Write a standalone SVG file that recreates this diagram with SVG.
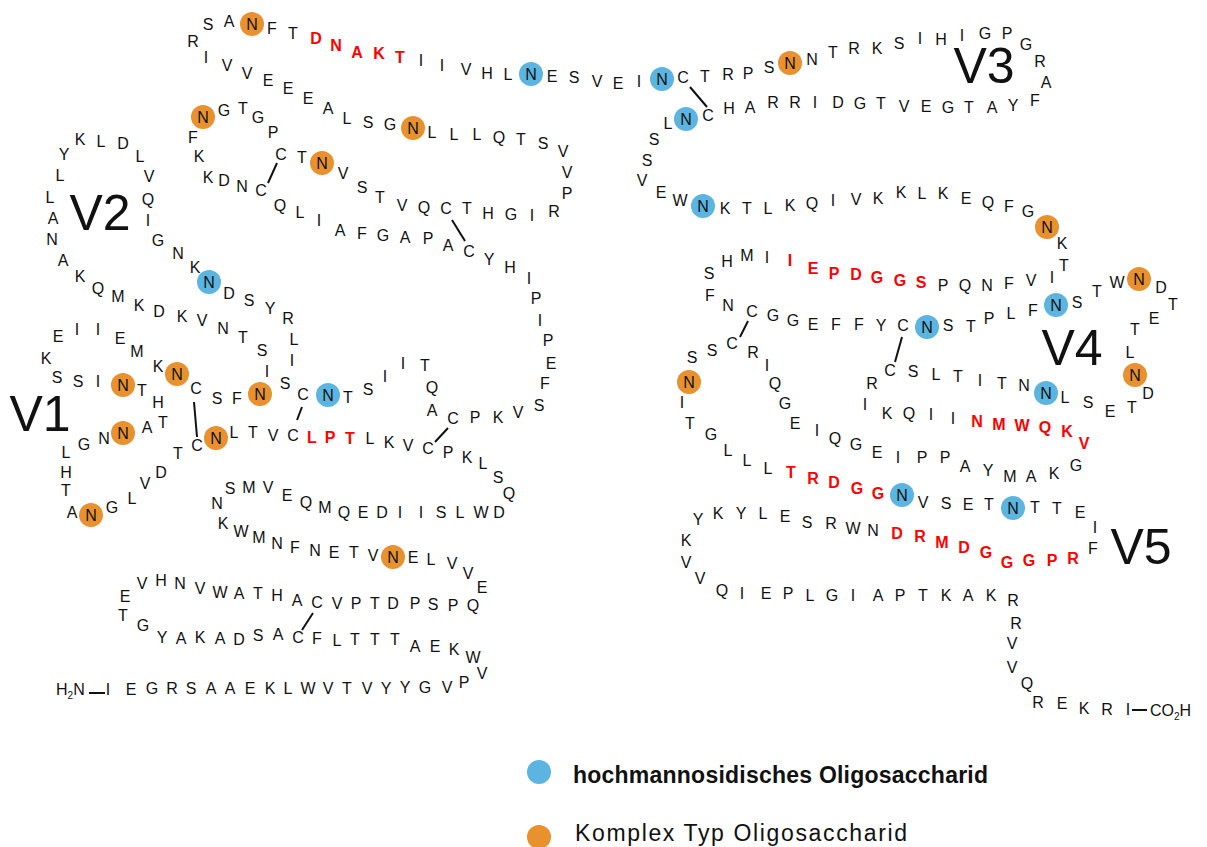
<svg xmlns="http://www.w3.org/2000/svg" width="1207" height="847" viewBox="0 0 1207 847">
<style>
.seq text{font-family:"Liberation Sans",Arial,sans-serif;font-size:16px;text-anchor:middle;dominant-baseline:central;fill:#111}
.seq text.r{fill:#f00;font-weight:bold}
.lbl{font-family:"Liberation Sans",Arial,sans-serif;font-size:50px;text-anchor:middle;dominant-baseline:central;fill:#111}
.hb{fill:#5bb5e0}
.ho{fill:#e8912e}
.bond{stroke:#111;stroke-width:2;fill:none}
.term{font-family:"Liberation Sans",Arial,sans-serif;font-size:16px;fill:#111}
.leg{font-family:"Liberation Sans",Arial,sans-serif;font-size:23px;fill:#111}
</style>
<rect width="1207" height="847" fill="#fff"/>
<g id="glycan-sites">
<g class="ho">
<circle cx="252" cy="24" r="12"/><circle cx="790" cy="63" r="12"/><circle cx="413" cy="128" r="12"/><circle cx="203" cy="117" r="12"/>
<circle cx="322" cy="163" r="12"/><circle cx="1047" cy="227" r="12"/><circle cx="1139" cy="279" r="12"/><circle cx="1135" cy="375" r="12"/>
<circle cx="689" cy="382" r="12"/><circle cx="260" cy="394" r="12"/><circle cx="177" cy="374" r="12"/><circle cx="123" cy="385" r="12"/>
<circle cx="123" cy="433" r="12"/><circle cx="91" cy="515" r="12"/><circle cx="216" cy="438" r="12"/><circle cx="393" cy="557" r="12"/>
</g>
<g class="hb">
<circle cx="531" cy="74" r="12"/><circle cx="662" cy="79" r="12"/><circle cx="686" cy="119" r="12"/><circle cx="703" cy="206" r="12"/>
<circle cx="927" cy="327" r="12"/><circle cx="1056" cy="305" r="12"/><circle cx="1046" cy="393" r="12"/><circle cx="902" cy="495" r="12"/>
<circle cx="1013" cy="508" r="12"/><circle cx="209" cy="282" r="12"/><circle cx="328" cy="395" r="12"/>
</g>
</g>
<g id="connectors">
<line class="bond" x1="452" y1="220" x2="465" y2="241"/>
<line class="bond" x1="448" y1="428" x2="435" y2="442"/>
<line class="bond" x1="277" y1="163" x2="268" y2="183"/>
<line class="bond" x1="690" y1="87" x2="707" y2="107"/>
<line class="bond" x1="748" y1="321" x2="740" y2="337"/>
<line class="bond" x1="902" y1="337" x2="895" y2="362"/>
<line class="bond" x1="194" y1="402" x2="197" y2="437"/>
<line class="bond" x1="302" y1="407" x2="297" y2="420"/>
<line class="bond" x1="313" y1="613" x2="302" y2="630"/>
<line class="bond" x1="89" y1="693" x2="105" y2="693"/>
<line class="bond" x1="1132" y1="710" x2="1147" y2="710"/>
</g>
<g id="strand-top" class="seq">
<text x="193" y="41">R</text><text x="208" y="24">S</text><text x="229" y="21">A</text><text x="252" y="24">N</text><text x="272" y="28">F</text><text x="293" y="33">T</text>
<text class="r" x="316" y="38">D</text><text class="r" x="336" y="45">N</text><text class="r" x="357" y="52">A</text><text class="r" x="379" y="53">K</text><text class="r" x="400" y="57">T</text>
<text x="421" y="60">I</text><text x="442" y="65">I</text><text x="466" y="69">V</text><text x="487" y="73">H</text><text x="508" y="74">L</text><text x="531" y="74">N</text>
<text x="552" y="76">E</text><text x="574" y="77">S</text><text x="597" y="81">V</text><text x="618" y="83">E</text><text x="639" y="81">I</text><text x="662" y="79">N</text>
<text x="683" y="77">C</text><text x="705" y="76">T</text><text x="728" y="74">R</text><text x="748" y="73">P</text><text x="769" y="67">S</text><text x="790" y="63">N</text>
</g>
<g id="v3-loop" class="seq">
<text x="812" y="59">N</text><text x="833" y="52">T</text><text x="854" y="48">R</text><text x="877" y="48">K</text><text x="899" y="43">S</text><text x="920" y="38">I</text>
<text x="941" y="39">H</text><text x="962" y="35">I</text><text x="985" y="33">G</text><text x="1007" y="33">P</text><text x="1026" y="44">G</text><text x="1040" y="61">R</text>
<text x="1046" y="82">A</text><text x="1035" y="100">F</text><text x="1013" y="105">Y</text><text x="992" y="107">A</text><text x="969" y="107">T</text><text x="948" y="107">G</text>
<text x="926" y="106">E</text><text x="904" y="106">V</text><text x="881" y="103">T</text><text x="860" y="103">G</text><text x="838" y="102">D</text><text x="815" y="102">I</text>
<text x="795" y="102">R</text><text x="773" y="102">R</text><text x="750" y="107">A</text><text x="729" y="108">H</text><text x="708" y="115">C</text>
</g>
<g id="strand-c3" class="seq">
<text x="686" y="119">N</text><text x="668" y="123">L</text><text x="654" y="139">S</text><text x="647" y="160">S</text><text x="642" y="180">V</text><text x="661" y="192">E</text>
<text x="680" y="200">W</text><text x="703" y="206">N</text><text x="725" y="208">K</text><text x="747" y="208">T</text><text x="768" y="208">L</text><text x="790" y="205">K</text>
<text x="812" y="203">Q</text><text x="833" y="200">I</text><text x="856" y="199">V</text><text x="878" y="198">K</text><text x="901" y="192">K</text><text x="922" y="193">L</text>
<text x="943" y="193">K</text><text x="966" y="198">E</text><text x="988" y="202">Q</text><text x="1009" y="206">F</text><text x="1028" y="211">G</text><text x="1047" y="227">N</text>
<text x="1062" y="243">K</text><text x="1064" y="265">T</text><text x="1052" y="277">I</text><text x="1031" y="280">V</text><text x="1009" y="283">F</text><text x="987" y="285">N</text>
<text x="965" y="285">Q</text><text x="943" y="285">P</text><text class="r" x="921" y="282">S</text><text class="r" x="900" y="280">G</text><text class="r" x="877" y="277">G</text>
<text class="r" x="856" y="274">D</text><text class="r" x="834" y="273">P</text><text class="r" x="813" y="268">E</text><text class="r" x="790" y="260">I</text>
<text x="767" y="257">I</text><text x="747" y="255">M</text><text x="727" y="261">H</text><text x="709" y="273">S</text><text x="710" y="295">F</text><text x="728" y="305">N</text>
<text x="752" y="311">C</text><text x="773" y="315">G</text><text x="793" y="320">G</text><text x="813" y="324">E</text><text x="836" y="324">F</text><text x="859" y="324">F</text>
<text x="881" y="325">Y</text><text x="903" y="325">C</text><text x="927" y="327">N</text><text x="948" y="325">S</text><text x="971" y="326">T</text><text x="989" y="318">P</text>
<text x="1011" y="313">L</text><text x="1033" y="310">F</text><text x="1056" y="305">N</text><text x="1077" y="302">S</text><text x="1097" y="291">T</text>
</g>
<g id="v4-loop" class="seq">
<text x="1117" y="282">W</text><text x="1139" y="279">N</text><text x="1161" y="287">D</text><text x="1173" y="304">T</text><text x="1154" y="318">E</text><text x="1135" y="329">T</text>
<text x="1130" y="352">L</text><text x="1135" y="375">N</text><text x="1148" y="393">D</text><text x="1132" y="407">T</text><text x="1110" y="411">E</text><text x="1088" y="402">S</text>
<text x="1065" y="397">L</text><text x="1046" y="393">N</text><text x="1024" y="385">N</text><text x="1002" y="383">T</text><text x="980" y="380">I</text><text x="958" y="376">T</text>
<text x="936" y="374">L</text><text x="913" y="371">S</text><text x="890" y="370">C</text>
</g>
<g id="strand-c4" class="seq">
<text x="872" y="383">R</text><text x="865" y="404">I</text><text x="887" y="413">K</text><text x="909" y="413">Q</text><text x="931" y="414">I</text><text x="953" y="418">I</text>
<text class="r" x="977" y="421">N</text><text class="r" x="999" y="424">M</text><text class="r" x="1022" y="425">W</text><text class="r" x="1045" y="427">Q</text><text class="r" x="1067" y="431">K</text><text class="r" x="1084" y="443">V</text>
<text x="1076" y="465">G</text><text x="1054" y="473">K</text><text x="1031" y="476">A</text><text x="1010" y="476">M</text><text x="988" y="470">Y</text><text x="965" y="466">A</text>
<text x="945" y="457">P</text><text x="922" y="457">P</text><text x="898" y="457">I</text><text x="877" y="452">E</text><text x="856" y="444">G</text><text x="835" y="438">Q</text>
<text x="817" y="430">I</text><text x="795" y="423">E</text><text x="785" y="403">G</text><text x="775" y="383">Q</text><text x="767" y="365">I</text><text x="753" y="352">R</text>
<text x="732" y="343">C</text><text x="712" y="350">S</text><text x="692" y="357">S</text><text x="689" y="382">N</text><text x="682" y="402">I</text><text x="690" y="423">T</text>
<text x="711" y="434">G</text><text x="728" y="450">L</text><text x="747" y="460">L</text><text x="768" y="468">L</text>
<text class="r" x="791" y="472">T</text><text class="r" x="813" y="478">R</text><text class="r" x="834" y="482">D</text><text class="r" x="857" y="488">G</text><text class="r" x="878" y="493">G</text>
</g>
<g id="v5-loop" class="seq">
<text x="902" y="495">N</text><text x="923" y="502">V</text><text x="946" y="503">S</text><text x="968" y="504">E</text><text x="989" y="504">T</text><text x="1013" y="508">N</text>
<text x="1035" y="507">T</text><text x="1057" y="508">T</text><text x="1080" y="512">E</text><text x="1095" y="527">I</text><text x="1093" y="548">F</text>
<text class="r" x="1073" y="558">R</text><text class="r" x="1052" y="560">P</text><text class="r" x="1029" y="560">G</text><text class="r" x="1007" y="562">G</text><text class="r" x="986" y="552">G</text>
<text class="r" x="964" y="547">D</text><text class="r" x="942" y="542">M</text><text class="r" x="920" y="536">R</text><text class="r" x="897" y="533">D</text>
<text x="873" y="530">N</text><text x="853" y="528">W</text><text x="831" y="523">R</text><text x="807" y="522">S</text><text x="785" y="516">E</text><text x="763" y="513">L</text>
<text x="741" y="513">Y</text><text x="718" y="513">K</text><text x="698" y="519">Y</text><text x="686" y="540">K</text><text x="686" y="562">V</text><text x="700" y="578">V</text>
</g>
<g id="c-terminus" class="seq">
<text x="722" y="590">Q</text><text x="742" y="593">I</text><text x="766" y="593">E</text><text x="788" y="593">P</text><text x="810" y="595">L</text><text x="832" y="595">G</text>
<text x="853" y="595">I</text><text x="878" y="595">A</text><text x="900" y="595">P</text><text x="923" y="595">T</text><text x="946" y="595">K</text><text x="968" y="595">A</text>
<text x="991" y="595">K</text><text x="1013" y="600">R</text><text x="1016" y="623">R</text><text x="1012" y="643">V</text><text x="1012" y="667">V</text><text x="1027" y="683">Q</text>
<text x="1038" y="702">R</text><text x="1062" y="703">E</text><text x="1084" y="708">K</text><text x="1107" y="709">R</text><text x="1128" y="709">I</text>
</g>
<text class="term" x="1150" y="716">CO<tspan font-size="10" dy="4">2</tspan><tspan dy="-4">H</tspan></text>
<g id="strand-left-upper" class="seq">
<text x="206" y="57">I</text><text x="227" y="65">V</text><text x="247" y="73">V</text><text x="268" y="80">E</text><text x="288" y="88">E</text><text x="308" y="98">E</text>
<text x="328" y="108">A</text><text x="347" y="118">L</text><text x="368" y="122">S</text><text x="390" y="124">G</text><text x="413" y="128">N</text><text x="432" y="132">L</text>
<text x="454" y="134">L</text><text x="477" y="134">L</text><text x="499" y="137">Q</text><text x="521" y="139">T</text><text x="543" y="143">S</text><text x="563" y="151">V</text>
<text x="567" y="172">V</text><text x="567" y="193">P</text><text x="554" y="211">R</text><text x="532" y="215">I</text><text x="511" y="214">G</text><text x="488" y="213">H</text>
<text x="467" y="208">T</text><text x="446" y="208">C</text><text x="424" y="207">Q</text><text x="402" y="205">V</text><text x="380" y="197">T</text><text x="362" y="187">S</text>
<text x="343" y="173">V</text><text x="322" y="163">N</text><text x="302" y="157">T</text><text x="281" y="154">C</text><text x="273" y="132">P</text><text x="258" y="117">G</text>
<text x="243" y="108">T</text><text x="224" y="110">G</text><text x="203" y="117">N</text><text x="193" y="137">F</text><text x="199" y="156">K</text><text x="208" y="177">K</text>
<text x="224" y="180">D</text><text x="242" y="186">N</text><text x="261" y="190">C</text><text x="280" y="205">Q</text><text x="300" y="212">L</text><text x="319" y="220">I</text>
<text x="340" y="230">A</text><text x="362" y="233">F</text><text x="383" y="235">G</text><text x="405" y="237">A</text><text x="428" y="238">P</text><text x="448" y="245">A</text>
<text x="469" y="251">C</text><text x="489" y="259">Y</text><text x="510" y="267">H</text><text x="529" y="278">I</text><text x="536" y="298">P</text><text x="540" y="320">I</text>
<text x="548" y="340">P</text><text x="551" y="363">E</text><text x="545" y="383">F</text><text x="539" y="405">S</text><text x="518" y="412">V</text><text x="498" y="417">K</text>
<text x="475" y="417">P</text><text x="453" y="418">C</text><text x="432" y="410">A</text><text x="432" y="387">Q</text><text x="425" y="365">T</text><text x="403" y="363">I</text>
<text x="385" y="376">I</text><text x="368" y="389">S</text><text x="348" y="397">T</text><text x="328" y="395">N</text><text x="303" y="394">C</text>
</g>
<g id="v2-loop" class="seq">
<text x="285" y="383">S</text><text x="292" y="360">I</text><text x="294" y="339">L</text><text x="288" y="318">R</text><text x="270" y="308">Y</text><text x="249" y="300">S</text>
<text x="229" y="293">D</text><text x="209" y="282">N</text><text x="195" y="267">K</text><text x="178" y="253">N</text><text x="158" y="240">G</text><text x="148" y="220">I</text>
<text x="148" y="199">Q</text><text x="149" y="176">V</text><text x="140" y="156">L</text><text x="123" y="143">D</text><text x="101" y="141">L</text><text x="80" y="139">K</text>
<text x="64" y="154">Y</text><text x="60" y="175">L</text><text x="50" y="197">L</text><text x="53" y="218">A</text><text x="52" y="239">N</text><text x="63" y="260">A</text>
<text x="80" y="276">K</text><text x="98" y="288">Q</text><text x="118" y="296">M</text><text x="139" y="305">K</text><text x="159" y="311">D</text><text x="182" y="316">K</text>
<text x="202" y="320">V</text><text x="223" y="328">N</text><text x="243" y="337">T</text><text x="262" y="350">S</text><text x="267" y="371">I</text><text x="260" y="394">N</text>
<text x="237" y="398">F</text><text x="217" y="398">S</text><text x="196" y="388">C</text>
</g>
<g id="v1-loop" class="seq">
<text x="177" y="374">N</text><text x="158" y="366">K</text><text x="137" y="351">M</text><text x="120" y="338">E</text><text x="98" y="329">I</text><text x="77" y="329">I</text>
<text x="58" y="336">E</text><text x="46" y="358">K</text><text x="57" y="377">S</text><text x="78" y="381">S</text><text x="98" y="381">I</text><text x="123" y="385">N</text>
<text x="142" y="390">T</text><text x="158" y="402">H</text><text x="163" y="422">T</text><text x="147" y="427">A</text><text x="123" y="433">N</text><text x="104" y="438">N</text>
<text x="84" y="444">G</text><text x="66" y="452">L</text><text x="66" y="472">H</text><text x="66" y="490">T</text><text x="72" y="512">A</text><text x="91" y="515">N</text>
<text x="112" y="507">G</text><text x="132" y="498">L</text><text x="145" y="483">V</text><text x="161" y="472">D</text><text x="178" y="453">T</text><text x="197" y="445">C</text>
</g>
<g id="strand-left-lower" class="seq">
<text x="216" y="438">N</text><text x="234" y="432">L</text><text x="253" y="432">T</text><text x="273" y="435">V</text><text x="293" y="435">C</text>
<text class="r" x="312" y="437">L</text><text class="r" x="330" y="437">P</text><text class="r" x="350" y="438">T</text>
<text x="370" y="438">L</text><text x="389" y="442">K</text><text x="408" y="445">V</text><text x="428" y="448">C</text><text x="448" y="452">P</text><text x="467" y="457">K</text>
<text x="483" y="463">L</text><text x="498" y="477">S</text><text x="509" y="493">Q</text><text x="499" y="512">D</text><text x="481" y="512">W</text><text x="460" y="512">L</text>
<text x="441" y="512">S</text><text x="421" y="512">I</text><text x="400" y="512">I</text><text x="382" y="512">D</text><text x="363" y="512">E</text><text x="344" y="512">Q</text>
<text x="325" y="507">M</text><text x="306" y="502">Q</text><text x="287" y="495">E</text><text x="268" y="487">V</text><text x="249" y="487">M</text><text x="230" y="488">S</text>
<text x="217" y="503">N</text><text x="223" y="523">K</text><text x="241" y="531">W</text><text x="259" y="537">M</text><text x="277" y="543">N</text><text x="295" y="547">F</text>
<text x="315" y="550">N</text><text x="334" y="552">E</text><text x="354" y="552">T</text><text x="373" y="555">V</text><text x="393" y="557">N</text><text x="413" y="557">E</text>
<text x="431" y="559">L</text><text x="452" y="563">V</text><text x="468" y="573">V</text><text x="482" y="587">E</text><text x="473" y="605">Q</text><text x="453" y="605">P</text>
<text x="433" y="604">S</text><text x="415" y="603">P</text><text x="393" y="603">D</text><text x="375" y="603">T</text><text x="356" y="603">P</text><text x="337" y="603">V</text>
<text x="317" y="602">C</text><text x="297" y="600">A</text><text x="277" y="595">H</text><text x="258" y="593">T</text><text x="239" y="593">A</text><text x="220" y="592">W</text>
<text x="200" y="588">V</text><text x="180" y="583">N</text><text x="161" y="580">H</text><text x="142" y="583">V</text><text x="125" y="596">E</text><text x="123" y="615">T</text>
<text x="143" y="625">G</text><text x="162" y="637">Y</text><text x="181" y="638">A</text><text x="200" y="637">K</text><text x="220" y="638">A</text><text x="239" y="639">D</text>
<text x="258" y="635">S</text><text x="278" y="634">A</text><text x="298" y="637">C</text><text x="317" y="638">F</text><text x="337" y="640">L</text><text x="355" y="639">T</text>
<text x="375" y="639">T</text><text x="395" y="639">T</text><text x="415" y="646">A</text><text x="435" y="646">E</text><text x="454" y="649">K</text><text x="473" y="657">W</text>
<text x="482" y="673">V</text><text x="464" y="682">P</text><text x="447" y="687">V</text><text x="425" y="687">G</text><text x="405" y="687">Y</text><text x="386" y="688">Y</text>
<text x="367" y="688">V</text><text x="347" y="688">T</text><text x="328" y="688">V</text><text x="308" y="688">W</text><text x="288" y="688">L</text><text x="270" y="688">K</text>
<text x="250" y="688">E</text><text x="230" y="688">A</text><text x="211" y="688">A</text><text x="191" y="688">S</text><text x="172" y="688">R</text><text x="152" y="688">G</text>
<text x="131" y="689">E</text><text x="108" y="689">I</text>
</g>
<text class="term" x="56" y="695">H<tspan font-size="10" dy="4">2</tspan><tspan dy="-4">N</tspan></text>
<g id="loop-labels">
<text class="lbl" x="40" y="414">V1</text>
<text class="lbl" x="100" y="213">V2</text>
<text class="lbl" x="984" y="66">V3</text>
<text class="lbl" x="1072" y="348">V4</text>
<text class="lbl" x="1141" y="547">V5</text>
</g>
<g id="legend">
<g id="legend-high-mannose">
<circle class="hb" cx="539" cy="772" r="12"/>
<text class="leg" x="573" y="783" font-weight="bold" textLength="415">hochmannosidisches Oligosaccharid</text>
</g>
<g id="legend-complex">
<circle class="ho" cx="539" cy="837" r="12"/>
<text class="leg" x="575" y="841" textLength="332">Komplex Typ Oligosaccharid</text>
</g>
</g>
</svg>
